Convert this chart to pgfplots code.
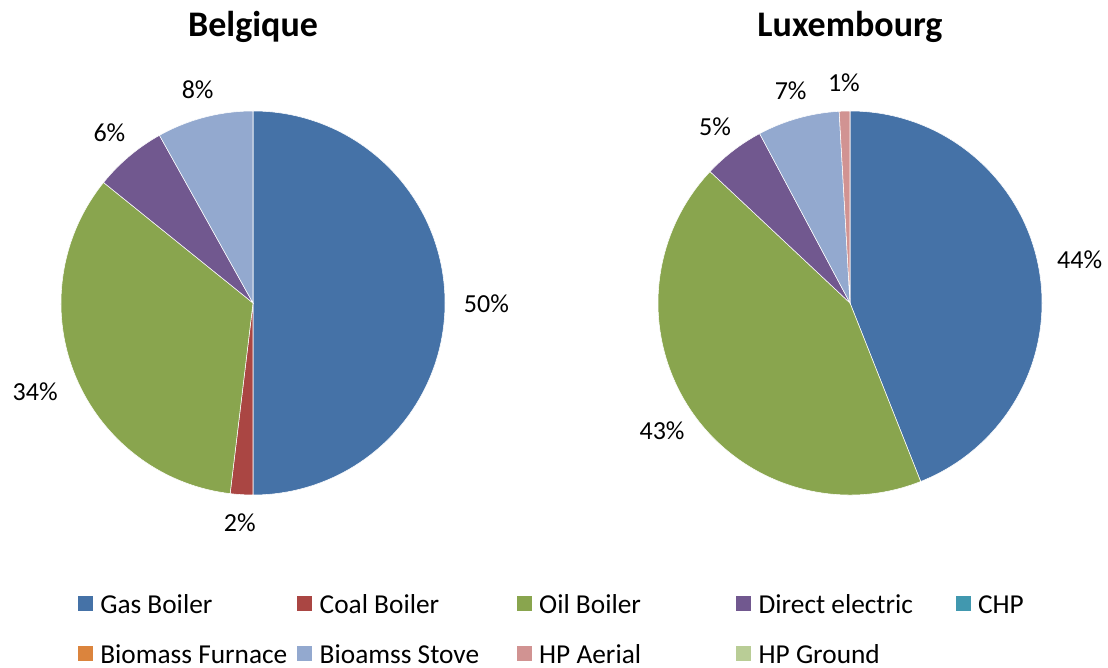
\documentclass[border=0pt]{standalone}
\usepackage{fontspec}
\setmainfont{Carlito}
\usepackage{pgfplots}
\pgfplotsset{compat=1.18}
\definecolor{gasc}{HTML}{4572A7}
\definecolor{coalc}{HTML}{AA4643}
\definecolor{oilc}{HTML}{89A54E}
\definecolor{dec}{HTML}{71588F}
\definecolor{chpc}{HTML}{4198AF}
\definecolor{bfc}{HTML}{DB843D}
\definecolor{bsc}{HTML}{93A9CF}
\definecolor{hpac}{HTML}{D19392}
\definecolor{hpgc}{HTML}{B9CD96}
\pgfplotsset{
  sq/.style={legend image code/.code={\fill[#1] (0pt,-5.25pt) rectangle (10.5pt,5.25pt); \path (16.3pt,0pt);}},
  pie/.style={
    scatter, only marks, mark=text, text mark={},
    sq={#1},
    visualization depends on={\thisrow{from}\as\pfrom},
    visualization depends on={\thisrow{to}\as\pto},
    visualization depends on={value \thisrow{lab}\as\plab},
    scatter/@pre marker code/.code={%
      \pgfmathsetmacro\sa{90-3.6*\pfrom}%
      \pgfmathsetmacro\ea{90-3.6*\pto}%
      \pgfmathsetmacro\ma{(\sa+\ea)/2}%
      \pgfmathtruncatemacro\la{mod(\ma+540,360)}%
      \fill[#1, draw=white, line width=0.4pt] (0pt,0pt) -- (\sa:144pt) arc[start angle=\sa, end angle=\ea, radius=144pt] -- cycle;
      \node[anchor=\la, inner sep=0pt, font=\fontsize{19.5}{23}\selectfont] at (\ma:158pt) {\plab\%};
    },
    scatter/@post marker code/.code={},
  }
}
\begin{document}
\begin{tikzpicture}
\begin{axis}[
  x=0.75pt, y=0.75pt,
  xmin=0, xmax=1108, ymin=0, ymax=668,
  hide axis, clip=false,
  legend columns=5,
  legend cell align=left,
  legend style={at={(axis cs:78,77)}, anchor=north west, draw=none, fill=none,
    inner sep=0pt, outer sep=0pt, row sep=19.2pt, column sep=0pt,
    nodes={inner sep=0pt}, font=\fontsize{20.5}{24}\selectfont},
]
\path (axis cs:0,0) rectangle (axis cs:1108,668);
\addplot[pie=gasc] table {
x y from to lab
253 365 0 50 50
850 365 0 44.0 44
};
\addlegendentry{\makebox[147.9pt][l]{\strut Gas Boiler}}
\addplot[pie=coalc] table {
x y from to lab
253 365 50 51.9 2
};
\addlegendentry{\makebox[147.9pt][l]{\strut Coal Boiler}}
\addplot[pie=oilc] table {
x y from to lab
253 365 51.9 85.8 34
850 365 44.0 87.0 43
};
\addlegendentry{\makebox[147.9pt][l]{\strut Oil Boiler}}
\addplot[pie=dec] table {
x y from to lab
253 365 85.8 91.9 6
850 365 87.0 92.2 5
};
\addlegendentry{\makebox[147.9pt][l]{\strut Direct electric}}
\addlegendimage{sq=chpc}
\addlegendentry{\makebox[40pt][l]{\strut CHP}}
\addlegendimage{sq=bfc}
\addlegendentry{\makebox[147.9pt][l]{\strut Biomass Furnace}}
\addplot[pie=bsc] table {
x y from to lab
253 365 91.9 100 8
850 365 92.2 99.1 7
};
\addlegendentry{\makebox[147.9pt][l]{\strut Bioamss Stove}}
\addplot[pie=hpac] table {
x y from to lab
850 365 99.1 100 1
};
\addlegendentry{\makebox[147.9pt][l]{\strut HP Aerial}}
\addlegendimage{sq=hpgc}
\addlegendentry{\makebox[147.9pt][l]{\strut HP Ground}}
\node[anchor=base, font=\fontsize{27}{31}\selectfont\bfseries] at (axis cs:253,631) {Belgique};
\node[anchor=base, font=\fontsize{27}{31}\selectfont\bfseries] at (axis cs:850,631) {Luxembourg};
\end{axis}
\end{tikzpicture}
\end{document}
